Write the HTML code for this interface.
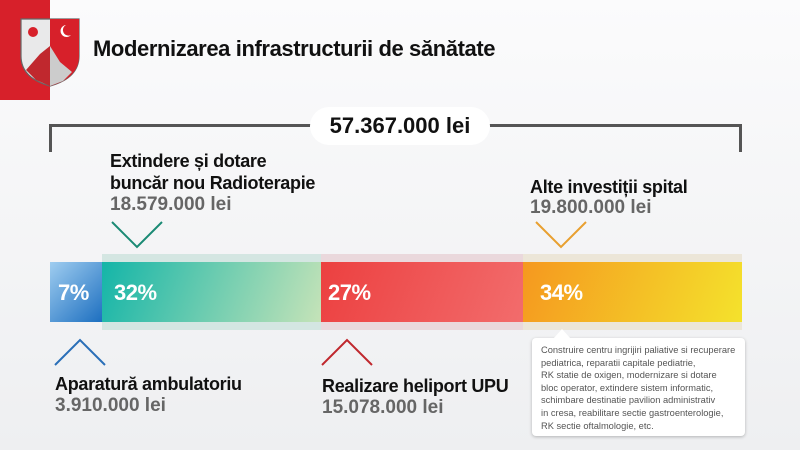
<!DOCTYPE html>
<html><head><meta charset="utf-8"><style>
body{margin:0;width:800px;height:450px;overflow:hidden;background:linear-gradient(#fbfbfc,#eeeff1);font-family:"Liberation Sans",sans-serif;position:relative}
.a{position:absolute}
.t{font-weight:bold;color:#111;font-size:18px;line-height:22px;letter-spacing:-0.3px}
.g{font-weight:bold;color:#666;font-size:19px;line-height:22px}
.p{color:#fff;font-weight:bold;font-size:22px;top:280px;letter-spacing:-0.5px}
</style></head><body>
<div class="a" style="left:0;top:0;width:50px;height:100px;background:#d7202a"></div>
<svg class="a" style="left:18px;top:16px" width="64" height="72" viewBox="0 0 64 72">
<path d="M3 3H61V40Q61 62 32 70Q3 62 3 40Z" fill="#e9e9ea" stroke="#666" stroke-width="1.2"/>
<path d="M32 3H61V40Q61 62 32 70Z" fill="#d7202a"/>
<path d="M8 54L22 38L32 30L42 46L54 56L45 65L32 70L18 64Z" fill="#c0282e"/>
<path d="M32 30L42 46L54 56L45 65L32 70Z" fill="#ccc"/>
<circle cx="15" cy="16" r="5" fill="#d7202a"/>
<path d="M48 9a6 6 0 1 0 5 10a5 5 0 1 1-5-10z" fill="#fff"/>
</svg>
<div class="a" style="left:93px;top:36px;font-size:22px;font-weight:bold;color:#111;letter-spacing:-0.4px">Modernizarea infrastructurii de sănătate</div>
<div class="a" style="left:49px;top:124px;width:693px;height:28px;border:3px solid #555;border-bottom:none;box-sizing:border-box"></div>
<div class="a" style="left:310px;top:107px;width:180px;height:38px;background:#fff;border-radius:19px;text-align:center;line-height:38px;font-size:22px;font-weight:bold;color:#111">57.367.000 lei</div>
<div class="a" style="left:102px;top:254px;width:640px;height:76px;background:linear-gradient(90deg,#d4e6e2 0,#d4e6e2 219px,#ead8dc 219px,#ead8dc 421px,#ece6d8 421px)"></div>
<div class="a" style="left:50px;top:262px;width:52px;height:60px;background:linear-gradient(135deg,#9fcdf0,#1d6fc0)"></div>
<div class="a" style="left:102px;top:262px;width:219px;height:60px;background:linear-gradient(110deg,#14b5a8,#c5e3b8)"></div>
<div class="a" style="left:321px;top:262px;width:202px;height:60px;background:linear-gradient(110deg,#ec4040,#f26c6c)"></div>
<div class="a" style="left:523px;top:262px;width:219px;height:60px;background:linear-gradient(110deg,#f5981f,#f4e22c)"></div>
<div class="a p" style="left:58px">7%</div><div class="a p" style="left:114px">32%</div>
<div class="a p" style="left:328px">27%</div><div class="a p" style="left:540px">34%</div>
<div class="a t" style="left:110px;top:150px">Extindere și dotare<br>buncăr nou Radioterapie</div>
<div class="a g" style="left:110px;top:194px">18.579.000 lei</div>
<div class="a t" style="left:530px;top:176px">Alte investiții spital</div>
<div class="a g" style="left:530px;top:197px">19.800.000 lei</div>
<div class="a t" style="left:55px;top:373px">Aparatură ambulatoriu</div>
<div class="a g" style="left:55px;top:395px">3.910.000 lei</div>
<div class="a t" style="left:322px;top:375px">Realizare heliport UPU</div>
<div class="a g" style="left:322px;top:397px">15.078.000 lei</div>
<svg class="a" style="left:0;top:0" width="800" height="450" fill="none" stroke-width="2">
<path d="M112 222L137 247L162 222" stroke="#1a8a74"/>
<path d="M536 222L561 247L586 222" stroke="#e8a030"/>
<path d="M55 365L80 340L105 365" stroke="#2a6fb8"/>
<path d="M322 365L347 340L372 365" stroke="#c0282e"/>
</svg>
<div class="a" style="left:532px;top:338px;width:213px;height:98px;background:#fff;border-radius:4px;box-shadow:0 1px 3px rgba(0,0,0,.25)"></div>
<div class="a" style="left:553px;top:329px;width:0;height:0;border:9px solid transparent;border-top:none;border-bottom:10px solid #fff"></div>
<div class="a" style="left:541px;top:344px;font-size:9.3px;line-height:12.6px;color:#555">Construire centru ingrijiri paliative si recuperare<br>pediatrica, reparatii capitale pediatrie,<br>RK statie de oxigen, modernizare si dotare<br>bloc operator, extindere sistem informatic,<br>schimbare destinatie pavilion administrativ<br>in cresa, reabilitare sectie gastroenterologie,<br>RK sectie oftalmologie, etc.</div>
</body></html>
